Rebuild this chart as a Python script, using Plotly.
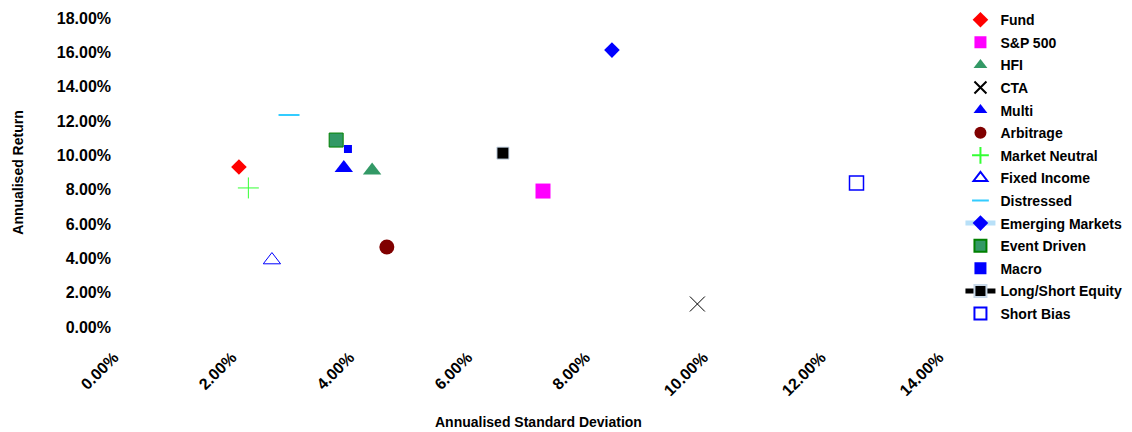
import plotly.graph_objects as go

names = ["Fund", "S&P 500", "HFI", "CTA", "Multi", "Arbitrage", "Market Neutral",
         "Fixed Income", "Distressed", "Emerging Markets", "Event Driven", "Macro",
         "Long/Short Equity", "Short Bias"]
std_dev = [0.0212, 0.0728, 0.0438, 0.0990, 0.0390, 0.0463, 0.0228,
           0.0268, 0.0297, 0.0845, 0.0377, 0.0397, 0.0660, 0.1260]
returns = [0.0932, 0.0792, 0.0912, 0.0134, 0.0926, 0.0466, 0.0810,
           0.0390, 0.1235, 0.1613, 0.1089, 0.1037, 0.1013, 0.0839]

styles = {
    "Fund": dict(symbol="diamond", size=12, color="#FF0000"),
    "S&P 500": dict(symbol="square", size=15, color="#FF00FF"),
    "HFI": dict(symbol="triangle-up", size=16, color="#339966"),
    "CTA": dict(symbol="x-thin-open", size=15, color="#000000", lw=1),
    "Multi": dict(symbol="triangle-up", size=16, color="#0000FF"),
    "Arbitrage": dict(symbol="circle", size=15, color="#800000"),
    "Market Neutral": dict(symbol="cross-thin-open", size=15, color="#33FF33", lw=1),
    "Fixed Income": dict(symbol="triangle-up-open", size=15, color="#0000FF", lw=1),
    "Distressed": dict(symbol="line-ew-open", size=15, color="#33CCFF", lw=2),
    "Emerging Markets": dict(symbol="diamond", size=12, color="#0000FF"),
    "Event Driven": dict(symbol="square", size=14, color="#339966", lc="#008000", lw=1),
    "Macro": dict(symbol="square", size=8, color="#0000FF"),
    "Long/Short Equity": dict(symbol="square", size=12, color="#000000", lc="#C8D8E8", lw=1),
    "Short Bias": dict(symbol="square-open", size=14, color="#0000FF", lw=1.5),
}

fig = go.Figure()
for i, n in enumerate(names):
    s = styles[n]
    mode = "markers"
    line = None
    if n == "Emerging Markets":
        mode = "lines+markers"
        line = dict(color="#B8E0F8", width=1)
    if n == "Long/Short Equity":
        mode = "lines+markers"
        line = dict(color="#000000", width=3)
    marker = dict(symbol=s["symbol"], size=s["size"], color=s["color"])
    if "lw" in s:
        marker["line"] = dict(color=s.get("lc", s["color"]), width=s["lw"])
    else:
        marker["line"] = dict(width=0)
    fig.add_trace(go.Scatter(x=[std_dev[i]], y=[returns[i]], mode=mode, name=n,
                             marker=marker, line=line, legendgroup=f"g{i}"))

axis_font = dict(family="Liberation Sans, Arial, sans-serif", size=16, color="#000000")
fig.update_layout(
    width=1132, height=432,
    margin=dict(l=114, r=193, t=18, b=105, autoexpand=False),
    paper_bgcolor="white", plot_bgcolor="white",
    font=dict(family="Liberation Sans, Arial, sans-serif", color="#000000"),
    showlegend=True,
    legend=dict(x=1.026, xanchor="left", y=1.045, yanchor="top",
                font=dict(family="Liberation Sans, Arial, sans-serif", size=14, color="#000000", weight="bold"),
                tracegroupgap=1.4, bgcolor="rgba(0,0,0,0)", traceorder="grouped",
                itemsizing="constant", maxheight=1.0),
    xaxis=dict(range=[0, 0.14], dtick=0.02, tick0=0, tickformat=".2%",
               showgrid=False, zeroline=False, showline=False, ticks="",
               tickangle=-45, tickfont=dict(axis_font, weight="bold"),
               ticklabelstandoff=17, automargin=False),
    yaxis=dict(range=[0, 0.18], dtick=0.02, tick0=0, tickformat=".2%",
               showgrid=False, zeroline=False, showline=False, ticks="",
               tickfont=dict(axis_font, weight="bold"), ticklabelstandoff=2, automargin=False,
               title=dict(text="<b>Annualised Return</b>",
                          font=dict(family="Liberation Sans, Arial, sans-serif", size=14), standoff=29)),
    annotations=[dict(text="<b>Annualised Standard Deviation</b>", xref="paper", yref="paper",
                      x=0.514, y=-0.307, xanchor="center", yanchor="middle", showarrow=False,
                      font=dict(family="Liberation Sans, Arial, sans-serif", size=14, color="#000000"))],
)

fig.write_html("out.html", config={"displayModeBar": False},
               post_script="document.body.style.margin='0';document.body.style.padding='0';")
